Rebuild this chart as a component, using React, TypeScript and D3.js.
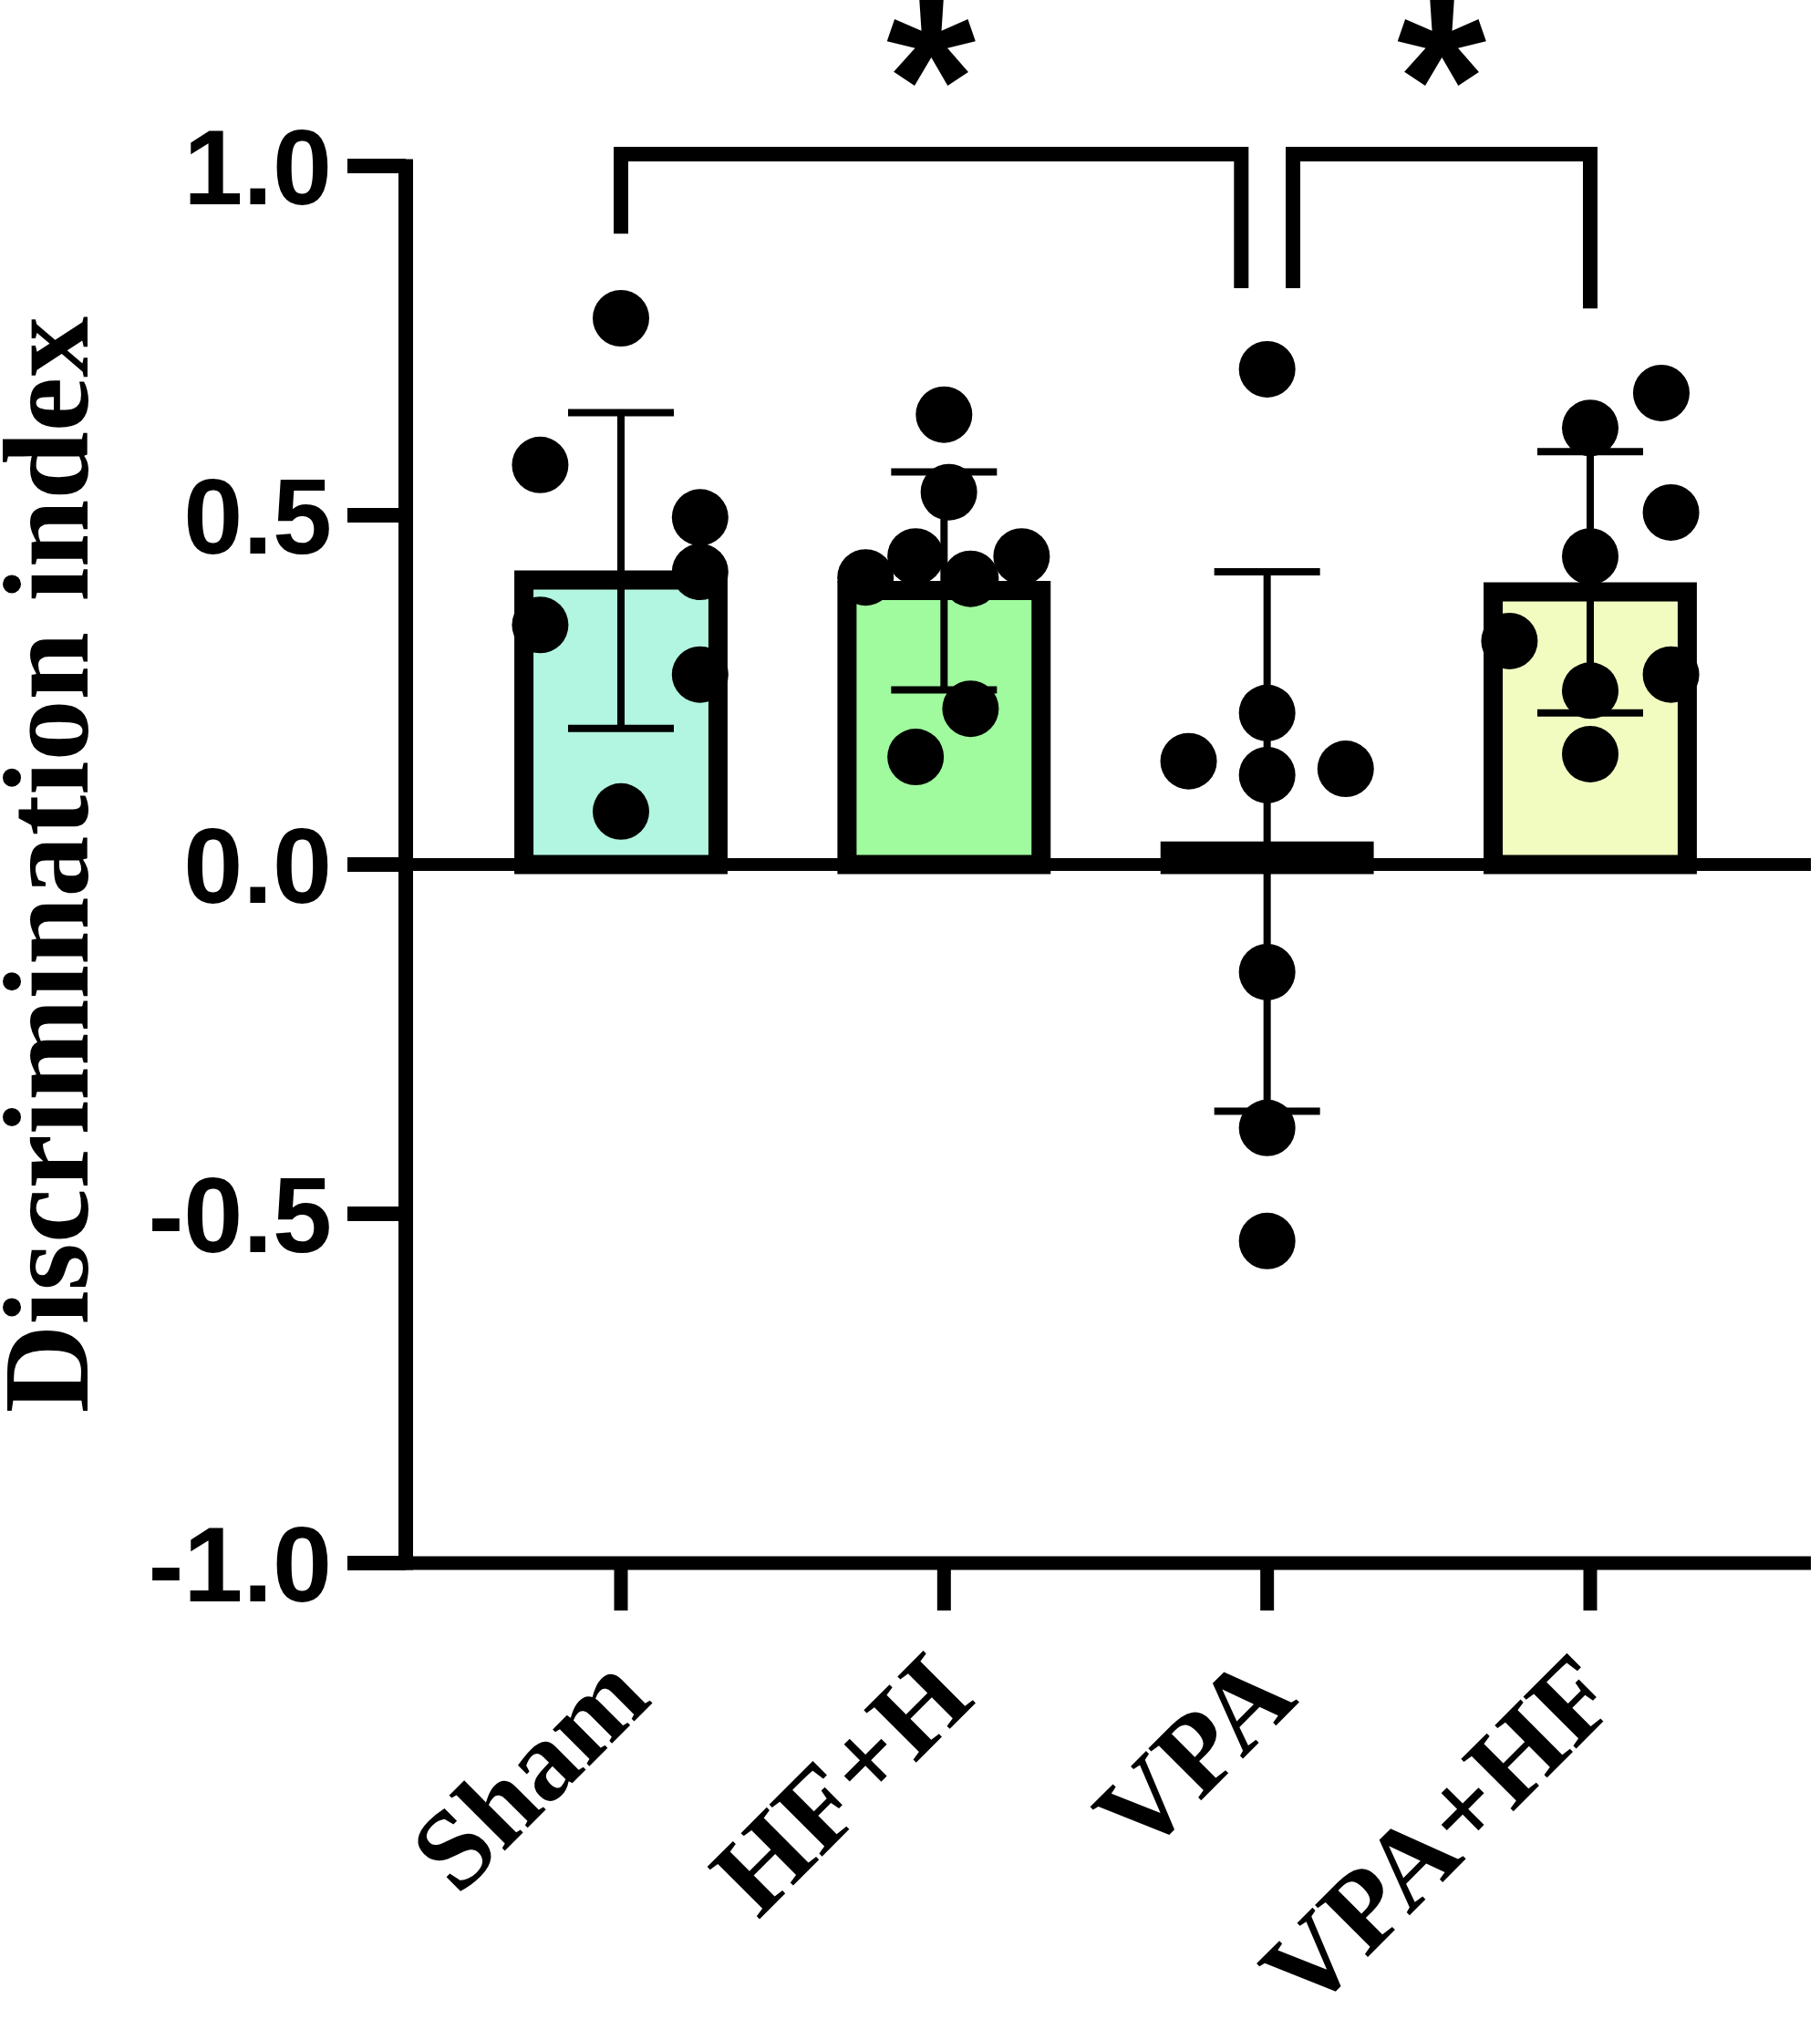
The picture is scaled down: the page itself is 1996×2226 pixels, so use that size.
import React, { useEffect } from 'react';
import * as d3 from 'd3';

// ---------- data ----------
const categories = ['Sham', 'HF+H', 'VPA', 'VPA+HF'];
const means = [0.421, 0.406, 0.033, 0.404];
const sds = [0.226, 0.156, 0.386, 0.187];
const barFills = ['#b2f5e0', '#a0fa9e', '#e6e6e6', '#f2fcc0'];

const shamValues = [0.782, 0.572, 0.497, 0.419, 0.343, 0.272, 0.076];
const shamJitter = [0, -0.25, 0.245, 0.245, -0.25, 0.245, 0];
const hfhValues = [0.644, 0.533, 0.411, 0.441, 0.409, 0.441, 0.223, 0.154];
const hfhJitter = [0, 0.015, -0.243, -0.088, 0.082, 0.24, 0.082, -0.088];
const vpaValues = [0.709, 0.217, 0.148, 0.128, 0.137, -0.154, -0.377, -0.539];
const vpaJitter = [0, 0, -0.243, 0, 0.243, 0, 0, 0];
const vpahfValues = [0.675, 0.625, 0.504, 0.441, 0.32, 0.272, 0.249, 0.158];
const vpahfJitter = [0.22, 0, 0.25, 0, -0.25, 0.25, 0, 0];

const pointValues = [shamValues, hfhValues, vpaValues, vpahfValues];
const pointJitter = [shamJitter, hfhJitter, vpaJitter, vpahfJitter];

const yTickValues = [-1, -0.5, 0, 0.5, 1];
const yDomain = [-1, 1];
const yAxisTitle = 'Discrimination index';

// significance brackets (data units)
const bracketFrom = ['Sham', 'VPA'];
const bracketTo = ['VPA', 'VPA+HF'];
const bracketTop = [1.017, 1.017];
const bracketLeftEnd = [0.903, 0.825];
const bracketRightEnd = [0.825, 0.796];
const bracketLeftShift = [0, 0.08];
const bracketRightShift = [-0.08, 0];
const bracketLabels = ['*', '*'];

// ---------- layout ----------
const W = 1996;
const H = 2226;
const axisLeft = 445;
const axisRight = 1986;
const serif = '"Liberation Serif", "Times New Roman", serif';
const sans = '"Liberation Sans", Arial, sans-serif';

const locale = d3.formatLocale({ decimal: '.', thousands: ',', grouping: [3], currency: ['', ''], minus: '-' });
const fmt = locale.format('.1f');

export default function App() {
  useEffect(() => {
    document.body.style.margin = '0';
  }, []);

  const y = d3.scaleLinear().domain(yDomain).range([1714, 182]);
  const x = d3.scalePoint<string>().domain(categories).range([681, 1744]);
  const step = x.step();
  const barOuter = step * 0.66;
  const barStroke = 21;
  const axisStroke = 15;
  const dotR = 31;
  const capHalf = 58;
  const y0 = y(0);

  return (
    <svg width={W} height={H} style={{ display: 'block', background: '#fff' }}>
      {/* bars */}
      {categories.map((c, i) => {
        const cx = x(c)!;
        const top = y(means[i]);
        const left = cx - barOuter / 2 + barStroke / 2;
        return (
          <rect
            key={'bar' + c}
            x={left}
            y={top + barStroke / 2}
            width={barOuter - barStroke}
            height={Math.max(0, y0 - top - barStroke / 2)}
            fill={barFills[i]}
            stroke="#000"
            strokeWidth={barStroke}
          />
        );
      })}

      {/* zero line */}
      <line x1={axisLeft} x2={axisRight} y1={y0} y2={y0} stroke="#000" strokeWidth={14} />

      {/* error bars */}
      {categories.map((c, i) => {
        const cx = x(c)!;
        const hi = y(means[i] + sds[i]);
        const lo = y(means[i] - sds[i]);
        return (
          <g key={'err' + c} stroke="#000" strokeWidth={8}>
            <line x1={cx} x2={cx} y1={hi} y2={lo} />
            <line x1={cx - capHalf} x2={cx + capHalf} y1={hi} y2={hi} />
            <line x1={cx - capHalf} x2={cx + capHalf} y1={lo} y2={lo} />
          </g>
        );
      })}

      {/* points */}
      {categories.map((c, i) =>
        pointValues[i].map((v, j) => (
          <circle
            key={'pt' + c + j}
            cx={x(c)! + pointJitter[i][j] * step}
            cy={y(v)}
            r={dotR}
            fill="#000"
          />
        ))
      )}

      {/* y axis */}
      <line x1={axisLeft} x2={axisLeft} y1={y(1) - axisStroke / 2} y2={y(-1) + axisStroke / 2} stroke="#000" strokeWidth={16} />
      {yTickValues.map((t) => (
        <g key={'yt' + t}>
          <line x1={381} x2={axisLeft} y1={y(t)} y2={y(t)} stroke="#000" strokeWidth={16} />
          <text
            x={364}
            y={y(t) + 42}
            textAnchor="end"
            fontFamily={sans}
            fontWeight="bold"
            fontSize={117}
            fill="#000"
          >
            {fmt(t)}
          </text>
        </g>
      ))}
      <text
        transform={`translate(96, ${(y(1) + y(-1)) / 2}) rotate(-90)`}
        textAnchor="middle"
        fontFamily={serif}
        fontWeight="bold"
        fontSize={134}
        fill="#000"
      >
        {yAxisTitle}
      </text>

      {/* x axis */}
      <line x1={axisLeft - 8} x2={axisRight} y1={y(-1)} y2={y(-1)} stroke="#000" strokeWidth={axisStroke} />
      {categories.map((c) => (
        <g key={'xt' + c}>
          <line x1={x(c)!} x2={x(c)!} y1={y(-1)} y2={1766} stroke="#000" strokeWidth={15} />
          <text
            transform={`translate(${x(c)! + 36}, 1866) rotate(-45)`}
            textAnchor="end"
            fontFamily={serif}
            fontWeight="bold"
            fontSize={124}
            fill="#000"
          >
            {c}
          </text>
        </g>
      ))}

      {/* significance brackets */}
      {bracketFrom.map((f, i) => {
        const xl = x(f)! + bracketLeftShift[i] * step;
        const xr = x(bracketTo[i])! + bracketRightShift[i] * step;
        const yt = y(bracketTop[i]);
        const path = `M${xl},${y(bracketLeftEnd[i])}V${yt}H${xr}V${y(bracketRightEnd[i])}`;
        return (
          <g key={'br' + i}>
            <path d={path} fill="none" stroke="#000" strokeWidth={16} strokeLinejoin="miter" strokeLinecap="butt" />
            <text
              x={(xl + xr) / 2}
              y={174}
              textAnchor="middle"
              fontFamily={sans}
              fontWeight="bold"
              fontSize={252}
              fill="#000"
            >
              {bracketLabels[i]}
            </text>
          </g>
        );
      })}
    </svg>
  );
}
